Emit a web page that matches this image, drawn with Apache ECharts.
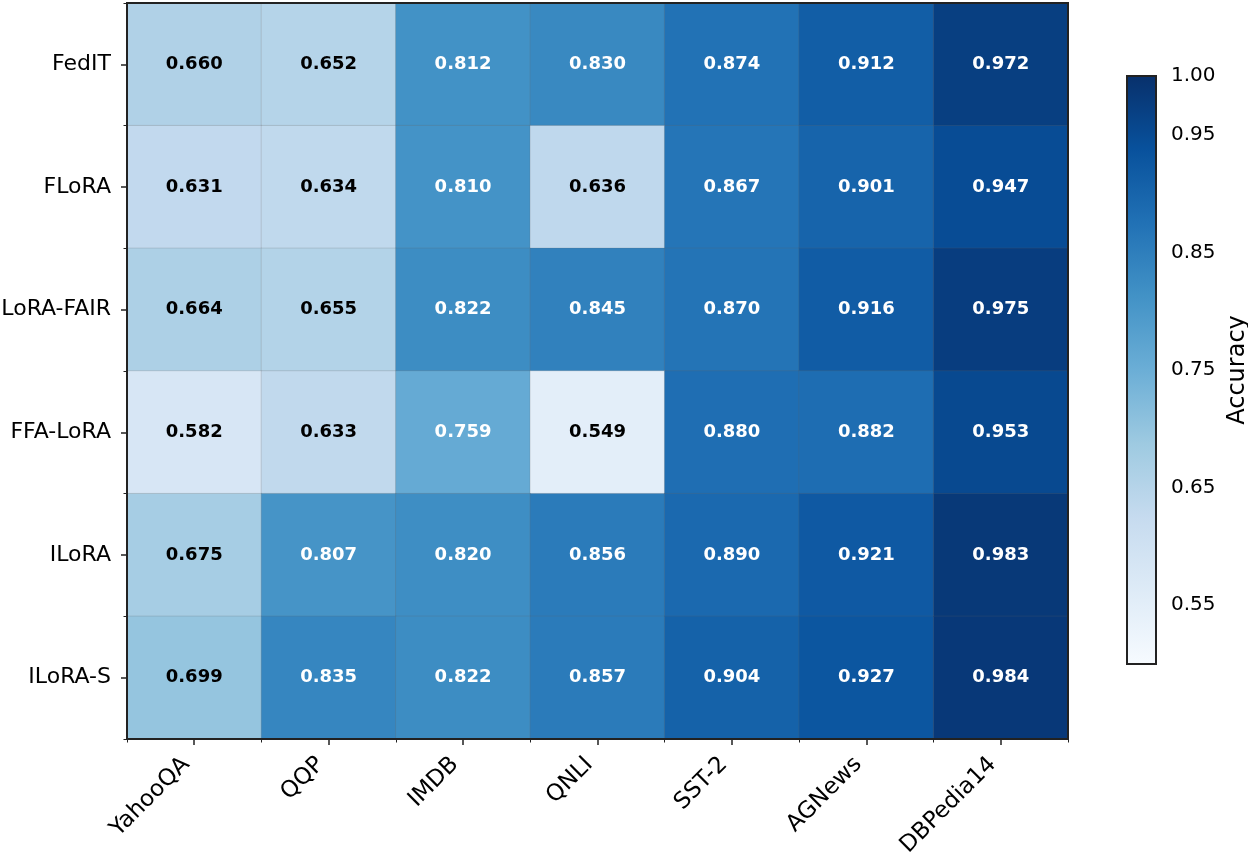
<!DOCTYPE html>
<html>
<head>
<meta charset="utf-8">
<script src="https://cdn.jsdelivr.net/npm/echarts@6/dist/echarts.min.js"></script>
<style>
html,body{margin:0;padding:0;background:#fff;}
#chart{width:1248px;height:854px;}
</style>
</head>
<body>
<div id="chart"></div>
<script>
const datasets = ['YahooQA','QQP','IMDB','QNLI','SST-2','AGNews','DBPedia14'];
const methods = ['FedIT','FLoRA','LoRA-FAIR','FFA-LoRA','ILoRA','ILoRA-S'];
const accFedIT    = [0.660,0.652,0.812,0.830,0.874,0.912,0.972];
const accFLoRA    = [0.631,0.634,0.810,0.636,0.867,0.901,0.947];
const accLoRAFAIR = [0.664,0.655,0.822,0.845,0.870,0.916,0.975];
const accFFALoRA  = [0.582,0.633,0.759,0.549,0.880,0.882,0.953];
const accILoRA    = [0.675,0.807,0.820,0.856,0.890,0.921,0.983];
const accILoRAS   = [0.699,0.835,0.822,0.857,0.904,0.927,0.984];
const colorbarTicks = [0.55,0.65,0.75,0.85,0.95,1.00];
const vmin = 0.5, vmax = 1.0;

const rows = [accFedIT, accFLoRA, accLoRAFAIR, accFFALoRA, accILoRA, accILoRAS];
const blues = ['#f7fbff','#deebf7','#c6dbef','#9ecae1','#6baed6','#4292c6','#2171b5','#08519c','#08306b'];
const font = 'DejaVu Sans';

const heatData = [];
rows.forEach((r, yi) => r.forEach((v, xi) => {
  heatData.push({value:[xi, yi, v], label:{color: v > 0.75 ? '#ffffff' : '#000000'}});
}));

const chart = echarts.init(document.getElementById('chart'));
const gradStops = blues.map((c,i)=>({offset:i/(blues.length-1), color:c}));

chart.setOption({
  animation:false,
  backgroundColor:'#fff',
  textStyle:{fontFamily:font},
  grid:[
    {left:127, top:3, width:941, height:736, show:true, borderColor:'#222', borderWidth:2, backgroundColor:'transparent', z:10, outerBoundsMode:'none', containLabel:false},
    {left:1127, top:76, width:29, height:588, outerBoundsMode:'none', containLabel:false}
  ],
  xAxis:[
    {type:'category', gridIndex:0, data:datasets, position:'bottom',
     axisLine:{show:false}, splitLine:{show:false},
     axisTick:{show:true, alignWithLabel:true, length:6, lineStyle:{color:'#222', width:1.5}},
     axisLabel:{rotate:45, align:'right', verticalAlign:'bottom', fontSize:23, color:'#000', fontFamily:font, margin:30}},
    {type:'category', gridIndex:0, data:datasets, position:'bottom',
     axisLine:{show:false}, splitLine:{show:false},
     axisTick:{show:true, length:3.5, lineStyle:{color:'#222', width:1}},
     axisLabel:{show:false}},
    {type:'value', gridIndex:1, min:0, max:1, show:false}
  ],
  yAxis:[
    {type:'category', gridIndex:0, data:methods, inverse:true, position:'left',
     axisLine:{show:false}, splitLine:{show:false},
     axisTick:{show:true, alignWithLabel:true, length:6, lineStyle:{color:'#222', width:1.5}},
     axisLabel:{fontSize:22, color:'#000', fontFamily:font, margin:16}},
    {type:'category', gridIndex:0, data:methods, inverse:true, position:'left',
     axisLine:{show:false}, splitLine:{show:false},
     axisTick:{show:true, length:3.5, lineStyle:{color:'#222', width:1}},
     axisLabel:{show:false}},
    {type:'value', gridIndex:1, min:vmin, max:vmax, position:'right',
     axisLine:{show:false}, splitLine:{show:false},
     axisTick:{show:true, length:6, customValues:colorbarTicks, lineStyle:{color:'#222', width:1.5}},
     axisLabel:{customValues:colorbarTicks, fontSize:20, color:'#000', fontFamily:font, margin:15,
                formatter:v=>v.toFixed(2)},
     name:'Accuracy', nameLocation:'middle', nameRotate:90, nameGap:70,
     nameTextStyle:{fontSize:24, color:'#000', fontFamily:font}}
  ],
  visualMap:{show:false, type:'continuous', min:vmin, max:vmax, seriesIndex:0, dimension:2,
             inRange:{color:blues}},
  series:[
    {type:'heatmap', xAxisIndex:0, yAxisIndex:0, data:heatData,
     itemStyle:{borderColor:'rgba(100,100,100,0.35)', borderWidth:0.6},
     label:{show:true, fontSize:18, fontWeight:'bold', fontFamily:font,
            formatter:p=>p.value[2].toFixed(3)},
     emphasis:{disabled:true}},
    {type:'custom', xAxisIndex:2, yAxisIndex:2, data:[[0,vmin,1,vmax]], silent:true, z:1,
     renderItem:(params, api)=>{
       const p1 = api.coord([api.value(0), api.value(3)]);
       const p2 = api.coord([api.value(2), api.value(1)]);
       return {type:'rect', shape:{x:p1[0], y:p1[1], width:p2[0]-p1[0], height:p2[1]-p1[1]},
               style:{fill:new echarts.graphic.LinearGradient(0,1,0,0,gradStops), stroke:'#222', lineWidth:2}};
     }}
  ]
});
</script>
</body>
</html>
